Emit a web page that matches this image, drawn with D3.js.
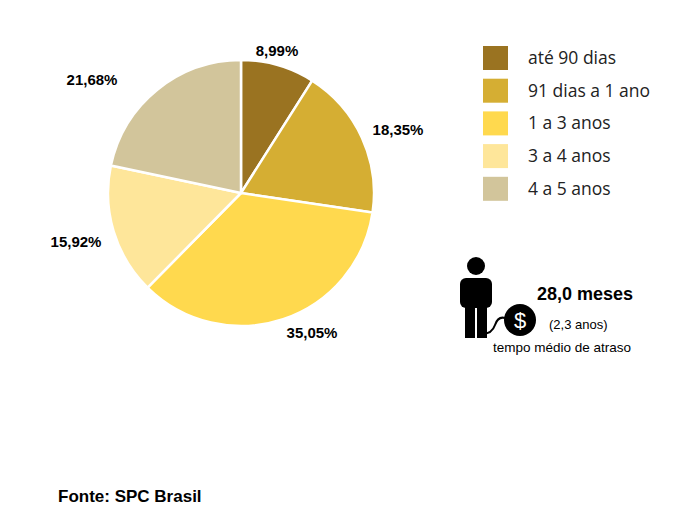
<!DOCTYPE html><html><head><meta charset="utf-8"><script src="https://cdn.jsdelivr.net/npm/d3@7"></script>
<style>body{margin:0;background:#fff}</style></head><body><svg id="c" width="700" height="530"></svg><script>
const categories=["até 90 dias","91 dias a 1 ano","1 a 3 anos","3 a 4 anos","4 a 5 anos"];
const values=[8.99,18.35,35.05,15.92,21.68];
const labels=["8,99%","18,35%","35,05%","15,92%","21,68%"];
const colors=["#9A7321","#D5AE33","#FFD94E","#FEE69A","#D2C59B"];
const labelPos=[[277,56],[398,135],[312,338],[76,247],[92,85]];
const svg=d3.select("#c"),F="Liberation Sans, Arial, sans-serif";
const pie=d3.pie().sort(null)(values),arc=d3.arc().innerRadius(0).outerRadius(133);
const g=svg.append("g").attr("transform","translate(241,193)");
g.selectAll("path").data(pie).enter().append("path").attr("d",arc).attr("fill",(d,i)=>colors[i]).attr("stroke","#fff").attr("stroke-width",2.5);
svg.selectAll(".l").data(labels).enter().append("text").attr("x",(d,i)=>labelPos[i][0]).attr("y",(d,i)=>labelPos[i][1]).attr("text-anchor","middle").attr("font-family",F).attr("font-weight","bold").attr("font-size",15).text(d=>d);
const lg=svg.append("g");
categories.forEach((c,i)=>{const y=46+i*32.7;
lg.append("rect").attr("x",483).attr("y",y).attr("width",25).attr("height",24).attr("fill",colors[i]);
lg.append("text").attr("x",528).attr("y",y+18).attr("font-family","Open Sans, sans-serif").attr("font-size",17.5).attr("fill","#222").text(c);});
// icon
const ic=svg.append("g").attr("fill","#000");
ic.append("circle").attr("cx",476).attr("cy",266).attr("r",9);
ic.append("rect").attr("x",460).attr("y",278).attr("width",32).attr("height",30).attr("rx",6);
ic.append("rect").attr("x",465).attr("y",300).attr("width",10).attr("height",38);
ic.append("rect").attr("x",477).attr("y",300).attr("width",10).attr("height",38);
ic.append("path").attr("d","M482 334 Q492 334 495 325 Q498 316 505 318").attr("fill","none").attr("stroke","#000").attr("stroke-width",2);
ic.append("circle").attr("cx",520).attr("cy",320).attr("r",16);
svg.append("text").attr("x",520).attr("y",328).attr("text-anchor","middle").attr("fill","#fff").attr("font-family",F).attr("font-size",22).text("$");
svg.append("text").attr("x",537).attr("y",300).attr("font-family",F).attr("font-weight","bold").attr("font-size",18).text("28,0 meses");
svg.append("text").attr("x",549).attr("y",329).attr("font-family",F).attr("font-size",13).text("(2,3 anos)");
svg.append("text").attr("x",493).attr("y",352).attr("font-family",F).attr("font-size",13.5).text("tempo médio de atraso");
svg.append("text").attr("x",58).attr("y",502).attr("font-family",F).attr("font-weight","bold").attr("font-size",17).text("Fonte: SPC Brasil");
</script></body></html>
